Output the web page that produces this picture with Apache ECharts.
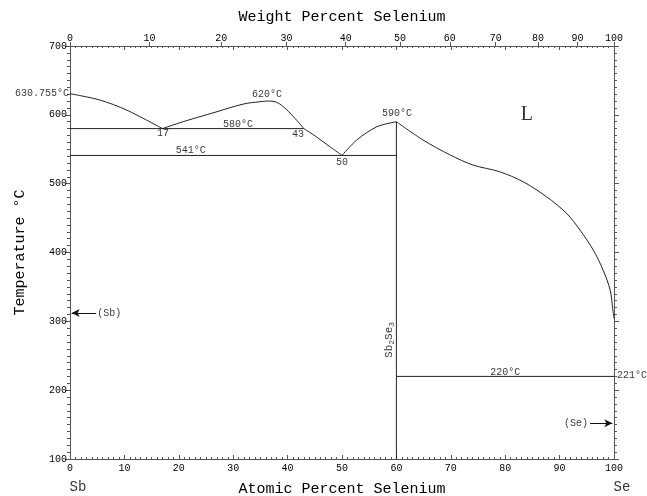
<!DOCTYPE html>
<html>
<head>
<meta charset="utf-8">
<script src="https://cdn.jsdelivr.net/npm/echarts@6/dist/echarts.min.js"></script>
<style>html,body{margin:0;padding:0;background:#fff}#c{width:647px;height:496px}</style>
</head>
<body>
<div id="c"></div>
<script>
// ---- data ----
const atomicTicks = [0,10,20,30,40,50,60,70,80,90,100];
const weightTicks = [0,10,20,30,40,50,60,70,80,90,100];
const tempTicks = [100,200,300,400,500,600,700];
const massSb = 121.76, massSe = 78.97;

const sbLiquidus = [[0,630.755],[5.5,621.5],[10.4,607],[17,580]];
const gapCurve = [[17,580],[20.8,590],[27,604.5],[31.9,615.7],[34.9,619],[36.5,620],[37.7,619],[39.2,611.8],[41.1,597],[43,580]];
const liqToEut = [[43,580],[45.3,568],[47.8,553.6],[50,541]];
const eutToComp = [[50,541],[52.7,563.4],[56.4,582.7],[60,590]];
const seLiquidus = [[60,590],[64.9,563.4],[69.9,541.6],[74.1,527],[79,517.3],[83.3,502.8],[87.6,481],[91.3,456.8],[93.75,432.6],[96.2,403.5],[98,374.4],[99.3,345.3],[99.8,316.3],[100,304]];
const monotectic580 = [[0,580],[43,580]];
const eutectic541 = [[0,541],[60,541]];
const compoundLine = [[60,590],[60,100]];
const eutectic220 = [[60,220],[100,220]];

const annotations = [
  ['620°C', 36.2, 630],
  ['580°C', 30.9, 586.7],
  ['17', 17.1, 573.5],
  ['43', 41.9, 572],
  ['50', 50, 531.4],
  ['541°C', 22.2, 548.8],
  ['590°C', 60.1, 602.6],
  ['220°C', 80, 226],
  ['(Sb)', 7.2, 312],
  ['(Se)', 93, 152]
];
const sbArrow = [[4.8,312],[0.3,312]];
const seArrow = [[95.6,152],[99.7,152]];

// weight% -> atomic% (for the top axis tick positions)
function wtToAt(w){ const s=w/massSe, b=(100-w)/massSb; return 100*s/(s+b); }
function atToWt(a){ const s=a*massSe, b=(100-a)*massSb; return 100*s/(s+b); }
const weightPos = weightTicks.map(wtToAt);

const FONT = 'Liberation Mono';
const axisCol = '#555';
const lineCol = '#222';
const txtCol = '#000';

function lineSeries(data, smooth){
  return {type:'line', data, xAxisIndex:0, yAxisIndex:0, symbol:'none', smooth: smooth||false,
    lineStyle:{color:lineCol,width:1}, silent:true, z:3};
}

const chart = echarts.init(document.getElementById('c'), null, {renderer:'canvas'});
chart.setOption({
  animation:false,
  backgroundColor:'#fff',
  grid:{left:70, right:33, top:46, bottom:37, containLabel:false, outerBoundsMode:'none'},
  xAxis:[
    {type:'value', position:'bottom', min:0, max:100, interval:10,
     name:'Atomic Percent Selenium', nameLocation:'middle', nameGap:23,
     nameTextStyle:{fontFamily:FONT, fontSize:15, color:txtCol},
     axisLine:{onZero:false, lineStyle:{color:axisCol}},
     axisTick:{inside:true, length:4, lineStyle:{color:axisCol}},
     minorTick:{show:true, splitNumber:10, length:2, lineStyle:{color:axisCol}},
     axisLabel:{fontFamily:FONT, fontSize:10, color:txtCol, margin:4,
       customValues: atomicTicks},
     splitLine:{show:false}},
    {type:'value', position:'top', min:0, max:100, interval:10,
     axisLine:{onZero:false, lineStyle:{color:axisCol}},
     axisTick:{inside:true, length:4, lineStyle:{color:axisCol}},
     minorTick:{show:true, splitNumber:10, length:2, lineStyle:{color:axisCol}},
     axisLabel:{show:false}, splitLine:{show:false}},
    {type:'value', position:'top', min:0, max:100,
     name:'Weight Percent Selenium', nameLocation:'middle', nameGap:21,
     nameTextStyle:{fontFamily:FONT, fontSize:15, color:txtCol},
     axisLine:{onZero:false, lineStyle:{color:axisCol}},
     axisTick:{inside:false, length:4, customValues: weightPos, lineStyle:{color:axisCol}},
     axisLabel:{fontFamily:FONT, fontSize:10, color:txtCol, margin:3,
       customValues: weightPos,
       formatter: v => String(Math.round(atToWt(v)))},
     splitLine:{show:false}}
  ],
  yAxis:[
    {type:'value', position:'left', min:100, max:700, interval:100,
     name:'Temperature °C', nameLocation:'middle', nameGap:42,
     nameTextStyle:{fontFamily:FONT, fontSize:15, color:txtCol},
     axisLine:{show:true, onZero:false, lineStyle:{color:axisCol}},
     axisTick:{show:true, inside:false, length:5, lineStyle:{color:axisCol}},
     minorTick:{show:true, splitNumber:10, length:3, lineStyle:{color:axisCol}},
     axisLabel:{fontFamily:FONT, fontSize:10, color:txtCol, margin:3, customValues: tempTicks},
     splitLine:{show:false}},
    {type:'value', position:'right', min:100, max:700, interval:100,
     axisLine:{show:true, onZero:false, lineStyle:{color:axisCol}},
     axisTick:{show:true, inside:false, length:5, lineStyle:{color:axisCol}},
     minorTick:{show:true, splitNumber:10, length:3, lineStyle:{color:axisCol}},
     axisLabel:{show:false}, splitLine:{show:false}}
  ],
  series:[
    lineSeries(sbLiquidus, 0.3),
    lineSeries(gapCurve, 0.4),
    lineSeries(liqToEut, 0.3),
    lineSeries(eutToComp, 0.3),
    lineSeries(seLiquidus, 0.3),
    lineSeries(monotectic580),
    lineSeries(eutectic541),
    lineSeries(compoundLine),
    lineSeries(eutectic220),
    {type:'line', data:[], xAxisIndex:0, yAxisIndex:0, silent:true, z:3,
     markLine:{silent:true, symbol:['none','arrow'], symbolSize:[6,8], animation:false,
       label:{show:false}, lineStyle:{color:'#111', width:1, type:'solid'},
       data:[
         [{coord:sbArrow[0]},{coord:sbArrow[1]}],
         [{coord:seArrow[0]},{coord:seArrow[1]}]
       ]}},
    {type:'scatter', symbolSize:0, silent:true, z:5,
     data: annotations.map(a => ({value:[a[1],a[2]], name:a[0]})),
     label:{show:true, position:'inside', formatter: p => p.name,
       fontFamily:FONT, fontSize:10, color:txtCol}},
    {type:'scatter', symbolSize:0, silent:true, z:5,
     data:[{value:[0,631], name:'630.755°C'}],
     label:{show:true, position:'left', distance:1, formatter: p => p.name,
       fontFamily:FONT, fontSize:10, color:txtCol}},
    {type:'scatter', symbolSize:0, silent:true, z:5,
     data:[{value:[100,222], name:'221°C'}],
     label:{show:true, position:'right', distance:3, formatter: p => p.name,
       fontFamily:FONT, fontSize:10, color:txtCol}},
    {type:'scatter', symbolSize:0, silent:true, z:5,
     data:[{value:[84,600], name:'L'}],
     label:{show:true, position:'inside', formatter: p => p.name,
       fontFamily:'Liberation Serif', fontSize:20, color:txtCol}},
    {type:'scatter', symbolSize:0, silent:true, z:5,
     data:[{value:[58.6,273], name:'Sb2Se3'}],
     label:{show:true, position:'inside', rotate:90,
       formatter: () => '{m|Sb}{s|2}{m|Se}{s|3}',
       rich:{m:{fontFamily:FONT, fontSize:11, color:txtCol, verticalAlign:'middle', lineHeight:14},
             s:{fontFamily:FONT, fontSize:8, color:txtCol, verticalAlign:'bottom', lineHeight:14, padding:[6,0,0,0]}}}},
    {type:'scatter', symbolSize:0, silent:true, z:5, clip:false,
     data:[{value:[0,100], name:'Sb'},{value:[100,100], name:'Se'}],
     label:{show:true, position:'inside', offset:[8,28], formatter: p => p.name,
       fontFamily:FONT, fontSize:14, color:txtCol}}
  ]
});
</script>
</body>
</html>
